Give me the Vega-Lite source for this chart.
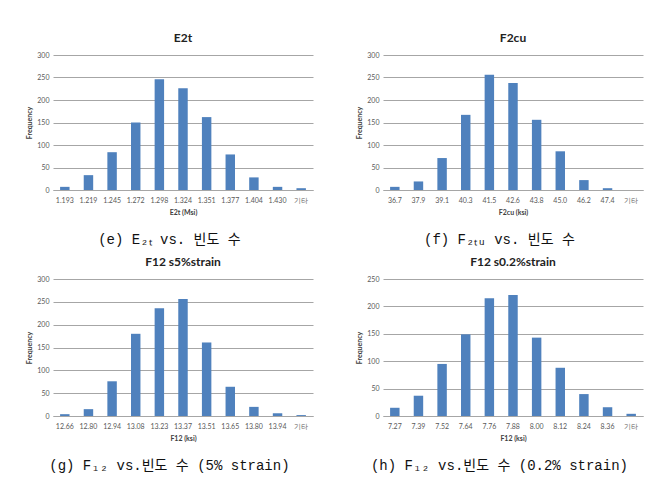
{
  "$schema": "https://vega.github.io/schema/vega-lite/v6.json",
  "background": "white",
  "padding": {"left": 25, "top": 32, "right": 5, "bottom": 5},
  "datasets": {
    "e": [
      {"bin": "1.193", "count": 7}, {"bin": "1.219", "count": 33}, {"bin": "1.245", "count": 84},
      {"bin": "1.272", "count": 150}, {"bin": "1.298", "count": 246}, {"bin": "1.324", "count": 226},
      {"bin": "1.351", "count": 162}, {"bin": "1.377", "count": 79}, {"bin": "1.404", "count": 28},
      {"bin": "1.430", "count": 7}, {"bin": "기타", "count": 4}
    ],
    "f": [
      {"bin": "36.7", "count": 7}, {"bin": "37.9", "count": 19}, {"bin": "39.1", "count": 71},
      {"bin": "40.3", "count": 167}, {"bin": "41.5", "count": 256}, {"bin": "42.6", "count": 238},
      {"bin": "43.8", "count": 156}, {"bin": "45.0", "count": 86}, {"bin": "46.2", "count": 22},
      {"bin": "47.4", "count": 4}, {"bin": "기타", "count": 0}
    ],
    "g": [
      {"bin": "12.66", "count": 4}, {"bin": "12.80", "count": 15}, {"bin": "12.94", "count": 76},
      {"bin": "13.08", "count": 180}, {"bin": "13.23", "count": 236}, {"bin": "13.37", "count": 256},
      {"bin": "13.51", "count": 161}, {"bin": "13.65", "count": 64}, {"bin": "13.80", "count": 20},
      {"bin": "13.94", "count": 6}, {"bin": "기타", "count": 2}
    ],
    "h": [
      {"bin": "7.27", "count": 15}, {"bin": "7.39", "count": 37}, {"bin": "7.52", "count": 95},
      {"bin": "7.64", "count": 149}, {"bin": "7.76", "count": 215}, {"bin": "7.88", "count": 221},
      {"bin": "8.00", "count": 143}, {"bin": "8.12", "count": 88}, {"bin": "8.24", "count": 40},
      {"bin": "8.36", "count": 16}, {"bin": "기타", "count": 4}
    ]
  },
  "spacing": 9,
  "vconcat": [
    {
      "spacing": 42,
      "hconcat": [
        {
          "title": {"text": "(e) E₂ₜ vs.  빈도 수", "orient": "bottom", "anchor": "middle", "font": "'Liberation Mono', 'Noto Sans CJK KR'", "fontSize": 14, "fontWeight": "normal", "color": "#111", "offset": 18},
          "vconcat": [
            {
              "title": "E2t",
              "width": 260, "height": 135,
              "data": {"name": "e"},
              "mark": {"type": "bar", "color": "#4f81bd"},
              "encoding": {
                "x": {"field": "bin", "type": "nominal", "sort": null, "title": "E2t (Msi)", "scale": {"paddingInner": 0.6, "paddingOuter": 0.3}},
                "y": {"field": "count", "type": "quantitative", "title": "Frequency", "scale": {"domain": [0, 300]}, "axis": {"values": [0, 50, 100, 150, 200, 250, 300]}}
              }
            }
          ]
        },
        {
          "title": {"text": "(f) F₂ₜᵤ vs.  빈도 수", "orient": "bottom", "anchor": "middle", "font": "'Liberation Mono', 'Noto Sans CJK KR'", "fontSize": 14, "fontWeight": "normal", "color": "#111", "offset": 18},
          "vconcat": [
            {
              "title": "F2cu",
              "width": 260, "height": 135,
              "data": {"name": "f"},
              "mark": {"type": "bar", "color": "#4f81bd"},
              "encoding": {
                "x": {"field": "bin", "type": "nominal", "sort": null, "title": "F2cu (ksi)", "scale": {"paddingInner": 0.6, "paddingOuter": 0.3}},
                "y": {"field": "count", "type": "quantitative", "title": "Frequency", "scale": {"domain": [0, 300]}, "axis": {"values": [0, 50, 100, 150, 200, 250, 300]}}
              }
            }
          ]
        }
      ]
    },
    {
      "spacing": 42,
      "hconcat": [
        {
          "title": {"text": "(g) F₁₂ vs.빈도 수 (5% strain)", "orient": "bottom", "anchor": "middle", "font": "'Liberation Mono', 'Noto Sans CJK KR'", "fontSize": 14, "fontWeight": "normal", "color": "#111", "offset": 18},
          "vconcat": [
            {
              "title": "F12 s5%strain",
              "width": 260, "height": 137,
              "data": {"name": "g"},
              "mark": {"type": "bar", "color": "#4f81bd"},
              "encoding": {
                "x": {"field": "bin", "type": "nominal", "sort": null, "title": "F12 (ksi)", "scale": {"paddingInner": 0.6, "paddingOuter": 0.3}},
                "y": {"field": "count", "type": "quantitative", "title": "Frequency", "scale": {"domain": [0, 300]}, "axis": {"values": [0, 50, 100, 150, 200, 250, 300]}}
              }
            }
          ]
        },
        {
          "title": {"text": "(h) F₁₂ vs.빈도 수 (0.2% strain)", "orient": "bottom", "anchor": "middle", "font": "'Liberation Mono', 'Noto Sans CJK KR'", "fontSize": 14, "fontWeight": "normal", "color": "#111", "offset": 18},
          "vconcat": [
            {
              "title": "F12 s0.2%strain",
              "width": 260, "height": 137,
              "data": {"name": "h"},
              "mark": {"type": "bar", "color": "#4f81bd"},
              "encoding": {
                "x": {"field": "bin", "type": "nominal", "sort": null, "title": "F12 (ksi)", "scale": {"paddingInner": 0.6, "paddingOuter": 0.3}},
                "y": {"field": "count", "type": "quantitative", "title": "Frequency", "scale": {"domain": [0, 250]}, "axis": {"values": [0, 50, 100, 150, 200, 250]}}
              }
            }
          ]
        }
      ]
    }
  ],
  "config": {
    "font": "Lato",
    "view": {"stroke": null},
    "axis": {
      "labelFont": "Lato", "labelFontSize": 7, "labelColor": "#595959",
      "titleFont": "Lato", "titleFontSize": 7, "titleFontWeight": "bold", "titleColor": "#404040",
      "gridColor": "#a6a6a6", "domainColor": "#a6a6a6", "ticks": false
    },
    "axisX": {"grid": false, "labelPadding": 6, "titlePadding": 5, "labelAngle": 0},
    "axisY": {"domain": false, "labelPadding": 4, "titlePadding": 4},
    "title": {"font": "Lato", "fontSize": 12, "fontWeight": "bold", "offset": 6, "color": "#222"}
  }
}
